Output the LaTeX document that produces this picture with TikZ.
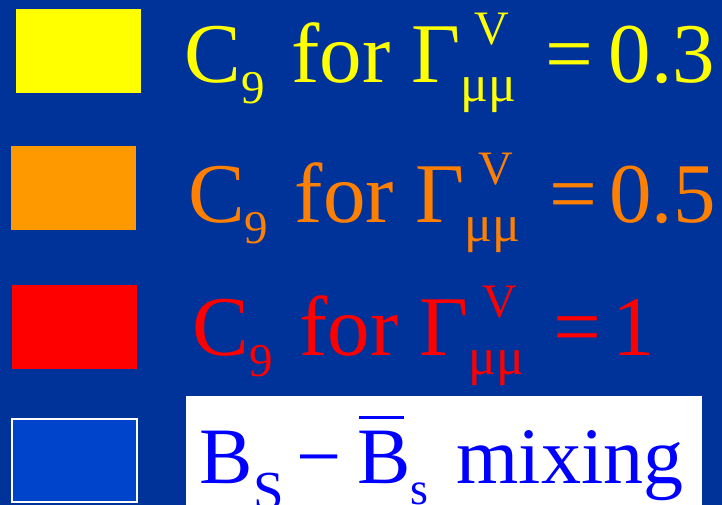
\documentclass[tikz,border=0pt]{standalone}
\usepackage{xcolor}
\usepackage{fontspec}
\setmainfont{Liberation Serif}
\usepackage{tikz}
\usetikzlibrary{positioning,calc}
\definecolor{slidebg}{HTML}{003399}
\definecolor{keyyellow}{HTML}{FFFF00}
\definecolor{keyorange}{HTML}{FF9900}
\definecolor{txtorange}{HTML}{FF8000}
\definecolor{keyred}{HTML}{FF0000}
\definecolor{keyblue}{HTML}{0044CC}
\definecolor{txtblue}{HTML}{0000FF}
% sub/superscript pieces of the labels
\newcommand{\lsub}[3]{\raisebox{-#1}{\fontsize{#2}{#2}\selectfont #3}}
\newcommand{\gammamumu}{Γ\rlap{\hspace{14pt}\raisebox{38pt}{\fontsize{48}{48}\selectfont V}}\lsub{19pt}{52}{μμ}}
\newcommand{\cnine}[2]{C\lsub{21pt}{47}{9}\hspace{26.8pt}for\hspace{21pt}\gammamumu\hspace{29pt}=\hspace{#1}#2}
\tikzset{
  % Legend swatches
  keybox/.style={draw=none,minimum width=125pt,minimum height=84pt,inner sep=0pt},
  % Legend texts
  keylb/.style={anchor=base west,inner sep=0pt,font=\fontsize{85}{85}\selectfont},
  mixlb/.style={anchor=base west,inner sep=0pt,font=\fontsize{80}{80}\selectfont,text=txtblue}
}
\begin{document}
\begin{tikzpicture}[x=1pt,y=-1pt]
  \fill[slidebg] (0,0) rectangle (722,505);
  \useasboundingbox (0,0) rectangle (722,505);

  % swatches
  \node[keybox,fill=keyyellow] (k1) at (78.5,51) {};
  \node[keybox,fill=keyorange] (k2) at (73.5,188) {};
  \node[keybox,fill=keyred]    (k3) at (74.5,327) {};
  \node[keybox,fill=keyblue,draw=white,line width=2pt,minimum width=125pt,minimum height=83pt] (k4) at (74.5,460.5) {};

  % labels
  \node[keylb,text=keyyellow] (l1) at (184.3,83)  {\cnine{15.5pt}{0.3}};
  \node[keylb,text=txtorange] (l2) at (187.8,222) {\cnine{12.5pt}{0.5}};
  \node[keylb,text=keyred]    (l3) at (192.3,355) {\cnine{11pt}{1}};

  % white panel behind the mixing label
  \node[draw=none,fill=white,minimum width=516pt,minimum height=114pt,inner sep=0pt] (mixbg) at (444,453) {};
  \node[mixlb] (l4) at (199.5,483)
    {B\lsub{26pt}{55}{S}\hspace{12.5pt}−\hspace{16pt}\rlap{\hspace{1.5pt}\raisebox{64pt}{\rule{45pt}{3.3pt}}}B\lsub{21pt}{46}{s}\hspace{28pt}mixing};
\end{tikzpicture}
\end{document}
